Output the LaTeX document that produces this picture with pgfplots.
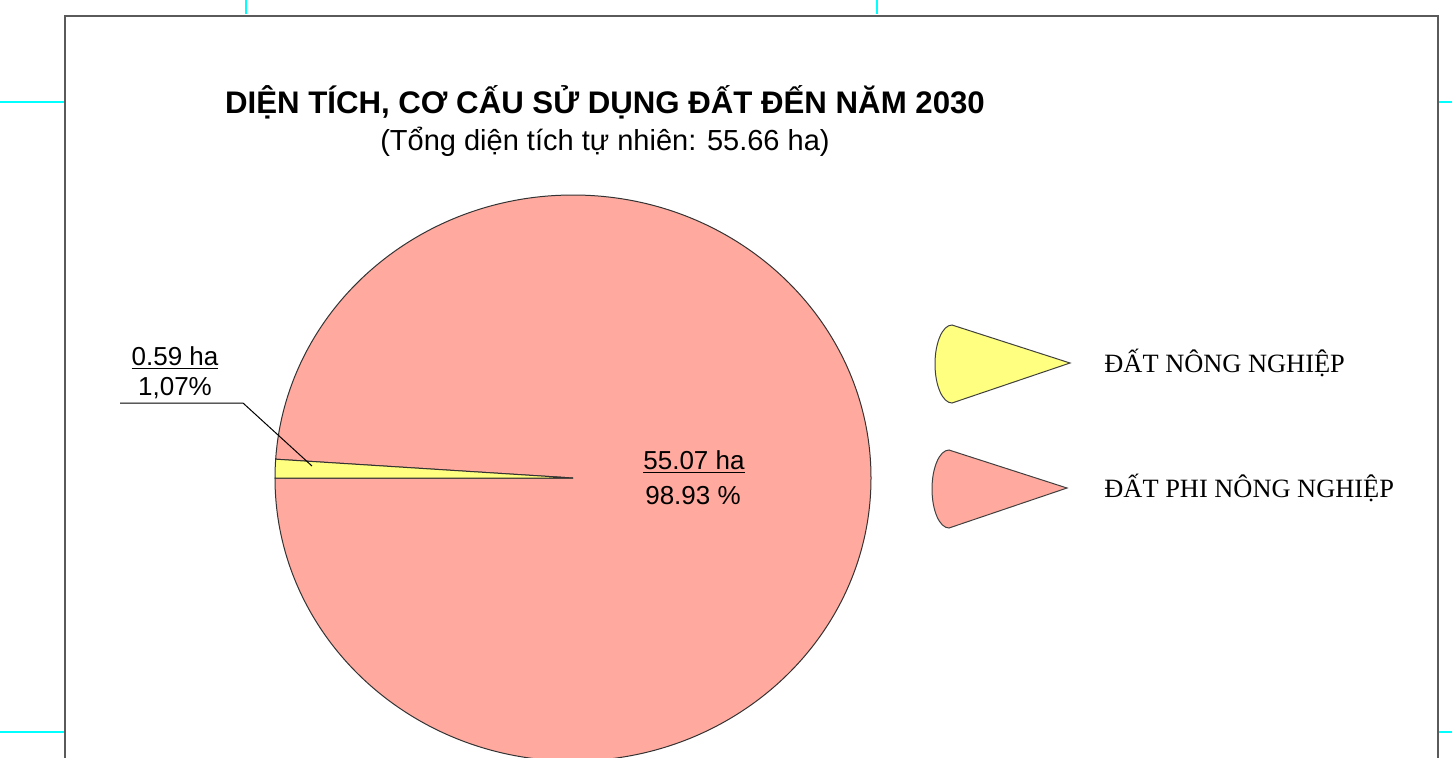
\documentclass[border=0pt]{standalone}
\usepackage{fontspec}
\setmainfont{Liberation Serif}
\newfontfamily\arial{Liberation Sans}
\usepackage{pgfplots}
\pgfplotsset{compat=1.18}
\usepackage{pgfplotstable}
\definecolor{pieyellow}{HTML}{FFFF80}
\definecolor{piepink}{HTML}{FFA99F}
\definecolor{framegray}{HTML}{5A5A5A}
\definecolor{cropcyan}{HTML}{00FFFF}

\pgfplotstableread{
label value
NN 0.59
PNN 55.07
}\landdata

\begin{document}%
\pgfplotstablegetelem{0}{value}\of\landdata\let\valA\pgfplotsretval%
\pgfplotstablegetelem{1}{value}\of\landdata\let\valB\pgfplotsretval%
\pgfmathsetmacro\angA{360*\valA/(\valA+\valB)}%
\begin{tikzpicture}
\begin{axis}[hide axis, scale only axis, width=726pt, height=378.5pt,
  xmin=0, xmax=1452, ymin=0, ymax=757, y dir=reverse]
% frame and crop marks
\draw[framegray, line width=0.8pt] (axis cs:65,775) -- (axis cs:65,16) -- (axis cs:1438,16) -- (axis cs:1438,775);
\draw[cropcyan, line width=1pt] (axis cs:246,0) -- (axis cs:246,14);
\draw[cropcyan, line width=1pt] (axis cs:877,0) -- (axis cs:877,14);
\draw[cropcyan, line width=1pt] (axis cs:0,102) -- (axis cs:64,102);
\draw[cropcyan, line width=1pt] (axis cs:1439,102) -- (axis cs:1452,102);
\draw[cropcyan, line width=1pt] (axis cs:0,732) -- (axis cs:64,732);
\draw[cropcyan, line width=1pt] (axis cs:1439,732) -- (axis cs:1452,732);
% titles
\node[anchor=base, font=\arial\bfseries\fontsize{15.6}{18}\selectfont] at (axis cs:605,113) {DIỆN TÍCH, CƠ CẤU SỬ DỤNG ĐẤT ĐẾN NĂM 2030};
\node[anchor=base, font=\arial\fontsize{14.5}{17}\selectfont] at (axis cs:605,150) {(Tổng diện tích tự nhiên: 55.66 ha)};
% pie
\filldraw[fill=piepink, draw=black!80, line width=0.5pt] (axis cs:573,478) -- ++(180:149pt)
  arc[start angle=180, end angle={540-\angA}, x radius=149pt, y radius=141.5pt] -- cycle;
\filldraw[fill=pieyellow, draw=black!80, line width=0.5pt] (axis cs:573,478) -- ++(180:149pt)
  arc[start angle=180, end angle={180-\angA}, x radius=149pt, y radius=141.5pt] -- cycle;
% labels
\draw[black, line width=0.5pt] (axis cs:120,403) -- (axis cs:243,403) -- (axis cs:312,466);
\node[anchor=base, font=\arial\fontsize{13}{15}\selectfont] at (axis cs:175,365) {\underline{0.59 ha}};
\node[anchor=base, font=\arial\fontsize{13}{15}\selectfont] at (axis cs:175,395) {1,07\%};
\node[anchor=base, font=\arial\fontsize{13}{15}\selectfont] at (axis cs:694,469) {\underline{55.07 ha}};
\node[anchor=base, font=\arial\fontsize{13}{15}\selectfont] at (axis cs:693,504) {98.93 \%};
% legend
\filldraw[fill=pieyellow, draw=black!75, line width=0.5pt] (axis cs:1070,363) -- (axis cs:952,325)
  arc[start angle=90, end angle=270, x radius=8.5pt, y radius=19.5pt] -- cycle;
\filldraw[fill=piepink, draw=black!75, line width=0.5pt] (axis cs:1067,488) -- (axis cs:949,450)
  arc[start angle=90, end angle=270, x radius=8.5pt, y radius=19.5pt] -- cycle;
\node[anchor=base west, inner sep=0pt, font=\fontsize{13.2}{16}\selectfont] at (axis cs:1104,372) {ĐẤT NÔNG NGHIỆP};
\node[anchor=base west, inner sep=0pt, font=\fontsize{13.2}{16}\selectfont] at (axis cs:1104,497) {ĐẤT PHI NÔNG NGHIỆP};
\end{axis}
\pgfresetboundingbox
\useasboundingbox (current axis.south west) rectangle (current axis.north east);
\end{tikzpicture}%
\end{document}
